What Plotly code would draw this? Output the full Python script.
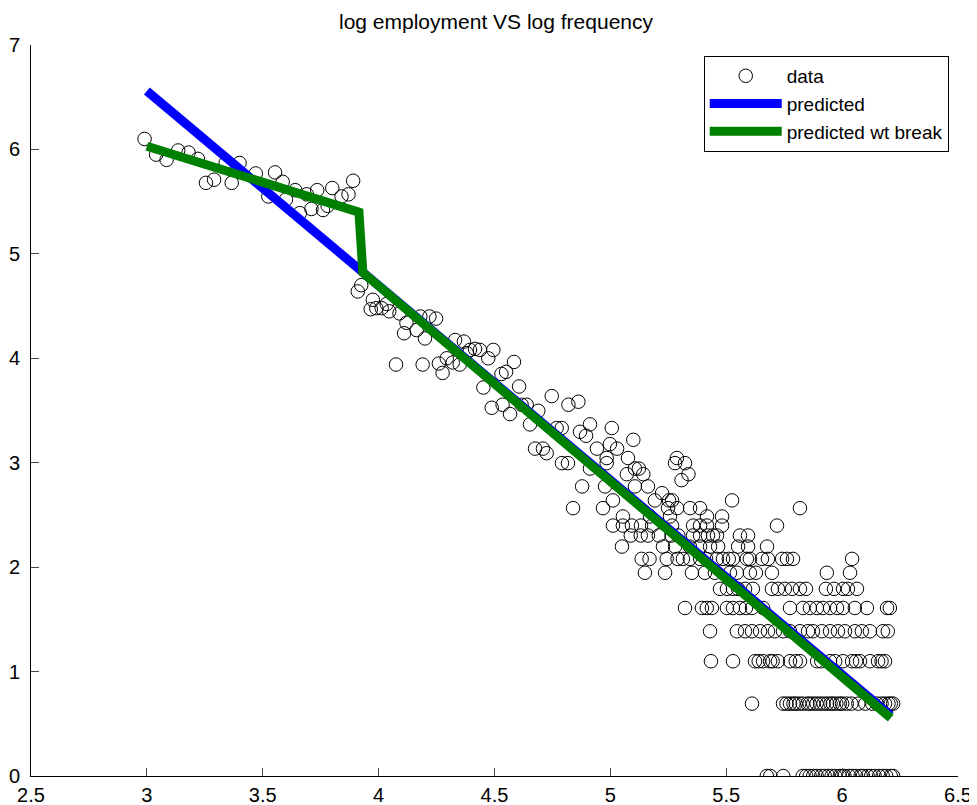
import plotly.graph_objects as go

# ---- scatter data: discrete employment levels (log n) and their log-frequency x values
row_levels = [0.0, 0.693, 1.099, 1.386, 1.609, 1.792, 1.946, 2.079, 2.197, 2.303, 2.398,
              2.485, 2.565, 2.639, 2.708, 2.773, 2.833, 2.890, 2.944, 2.996, 3.045, 3.091,
              3.135, 3.178, 3.219, 3.258, 3.296, 3.332, 3.367, 3.466, 3.497, 3.526, 3.555,
              3.584, 3.638]
row_x = [
    [5.675, 5.690, 5.746, 5.830, 5.845, 5.860, 5.875, 5.890, 5.910, 5.925, 5.940, 5.955, 5.970,
     5.990, 6.000, 6.010, 6.030, 6.045, 6.060, 6.080, 6.090, 6.110, 6.125, 6.140, 6.160, 6.175,
     6.190, 6.210, 6.220],
    [5.611, 5.745, 5.760, 5.775, 5.790, 5.800, 5.815, 5.830, 5.850, 5.860, 5.875, 5.890, 5.905,
     5.920, 5.935, 5.950, 5.960, 5.975, 5.990, 6.000, 6.020, 6.040, 6.070, 6.100, 6.130, 6.150,
     6.170, 6.185, 6.200, 6.210, 6.220],
    [5.434, 5.529, 5.624, 5.640, 5.659, 5.689, 5.700, 5.723, 5.775, 5.800, 5.818, 5.892, 5.910,
     5.948, 5.970, 6.004, 6.043, 6.060, 6.077, 6.120, 6.155, 6.170, 6.185],
    [5.430, 5.546, 5.581, 5.611, 5.646, 5.680, 5.710, 5.745, 5.775, 5.818, 5.853, 5.874, 5.913,
     5.948, 5.982, 6.012, 6.055, 6.085, 6.120, 6.176, 6.197],
    [5.322, 5.395, 5.416, 5.438, 5.503, 5.529, 5.559, 5.585, 5.611, 5.659, 5.775, 5.831, 5.861,
     5.891, 5.917, 5.948, 5.978, 6.004, 6.055, 6.107, 6.194, 6.206],
    [5.473, 5.503, 5.529, 5.551, 5.581, 5.615, 5.697, 5.723, 5.753, 5.784, 5.818, 5.844, 5.930,
     5.965, 6.004, 6.025, 6.064],
    [5.149, 5.236, 5.352, 5.408, 5.451, 5.516, 5.546, 5.602, 5.628, 5.697, 5.934, 6.034],
    [5.135, 5.169, 5.243, 5.290, 5.313, 5.343, 5.387, 5.413, 5.460, 5.486, 5.511, 5.529, 5.589,
     5.602, 5.654, 5.680, 5.741, 5.762, 5.788, 6.043],
    [5.050, 5.227, 5.279, 5.343, 5.387, 5.430, 5.465, 5.551, 5.594, 5.676],
    [5.088, 5.131, 5.162, 5.209, 5.264, 5.293, 5.357, 5.387, 5.421, 5.443, 5.460, 5.559, 5.594],
    [5.011, 5.054, 5.093, 5.132, 5.180, 5.266, 5.357, 5.387, 5.417, 5.482, 5.719],
    [5.054, 5.171, 5.257, 5.417, 5.482],
    [4.839, 4.968, 5.249, 5.288, 5.344, 5.387, 5.818],
    [5.011, 5.192, 5.253, 5.266, 5.525],
    [5.223],
    [4.878, 4.977, 5.106, 5.162],
    [5.307],
    [5.071, 5.142, 5.337],
    [4.912, 5.106, 5.123],
    [4.791, 4.817, 4.984, 5.279, 5.322],
    [4.984, 5.076, 5.287],
    [4.725],
    [4.675, 4.709, 4.942, 5.029],
    [4.998],
    [5.099],
    [4.895],
    [4.869],
    [4.768, 4.790, 5.006],
    [4.653, 4.912],
    [4.567],
    [4.689],
    [4.488],
    [4.535, 4.617, 4.639, 4.819],
    [4.862],
    [4.747],
]

# ---- scatter data: upper part (continuous values)
upper_x = [2.990, 3.040, 3.085, 3.135, 3.180, 3.220, 3.255, 3.290, 3.340, 3.400, 3.366, 3.470,
           3.553, 3.524, 3.586, 3.640, 3.600, 3.660, 3.690, 3.710, 3.735, 3.760, 3.800, 3.840,
           3.870, 3.890, 3.780,
           3.910, 3.925, 3.975, 3.966, 3.990, 4.013, 4.035, 4.046, 4.090, 4.110, 4.164, 4.200,
           4.180, 4.219, 4.248, 4.075, 4.190, 4.260, 4.276, 4.294, 4.320, 4.330, 4.368, 4.394,
           4.416, 4.437, 4.495, 4.473, 4.380, 4.350, 4.452, 4.530, 4.550, 4.584, 4.606, 4.120]
upper_y = [6.10, 5.95, 5.90, 5.99, 5.97, 5.91, 5.68, 5.71, 5.87, 5.87, 5.68, 5.77,
           5.78, 5.55, 5.69, 5.61, 5.52, 5.39, 5.57, 5.43, 5.61, 5.42, 5.63, 5.55,
           5.57, 5.70, 5.46,
           4.64, 4.70, 4.56, 4.47, 4.48, 4.48, 4.52, 4.45, 4.43, 4.24, 4.27, 4.19,
           4.40, 4.40, 4.38, 3.94, 3.94, 3.95, 3.86, 4.00, 3.96, 4.175, 4.16, 4.08,
           4.09, 4.08, 4.08, 4.00, 4.05, 3.94, 3.72, 3.85, 3.87, 3.965, 3.73, 4.34]

# ---- fitted lines
pred_x = [3.0, 6.21]
pred_y = [6.56, 0.58]
brk_x = [3.0, 3.915, 3.932, 6.21]
brk_y = [6.03, 5.40, 4.82, 0.555]

x_ticks = [2.5, 3, 3.5, 4, 4.5, 5, 5.5, 6, 6.5]
x_ticklabels = ["2.5", "3", "3.5", "4", "4.5", "5", "5.5", "6", "6.5"]
y_ticks = [0, 1, 2, 3, 4, 5, 6, 7]
y_ticklabels = ["0", "1", "2", "3", "4", "5", "6", "7"]

data_x = list(upper_x)
data_y = list(upper_y)
for lvl, xs in zip(row_levels, row_x):
    data_x.extend(xs)
    data_y.extend([lvl] * len(xs))

fig = go.Figure()
fig.add_trace(go.Scatter(
    x=data_x, y=data_y, mode="markers", name="data",
    marker=dict(symbol="circle-open", size=13.5, color="black", line=dict(width=1, color="black")),
))
fig.add_trace(go.Scatter(x=pred_x, y=pred_y, mode="lines", name="predicted",
                         line=dict(color="#0000ff", width=9)))
fig.add_trace(go.Scatter(x=brk_x, y=brk_y, mode="lines", name="predicted wt break",
                         line=dict(color="#008000", width=9)))

# the page body adds an 8px offset; margins compensate so the plot area matches the target
W, H = 977, 805
OFF = 8
font_main = "Liberation Sans, Arial, Helvetica, sans-serif"
fig.update_layout(
    width=W, height=H,
    margin=dict(l=31 - OFF, r=W - (958 - OFF), t=45 - OFF, b=H - (776 - OFF), autoexpand=False),
    paper_bgcolor="white", plot_bgcolor="white",
    font=dict(family=font_main, size=20, color="black"),
    title=dict(text="log employment VS log frequency",
               font=dict(family="Liberation Sans Narrow, Liberation Sans, Arial", size=21, color="black"),
               x=(496 - OFF) / W, xanchor="center", xref="container",
               y=(H - (22 - OFF)) / H, yanchor="middle", yref="container"),
    showlegend=True,
    legend=dict(x=0.990, xanchor="right", y=0.985, yanchor="top",
                bordercolor="black", borderwidth=1, bgcolor="white",
                font=dict(size=19, family=font_main), tracegroupgap=0,
                itemwidth=72),
)
fig.update_xaxes(range=[2.5, 6.5], tickvals=x_ticks, ticktext=x_ticklabels, automargin=False,
                 ticks="inside", ticklen=8, tickcolor="#444", showline=True, linecolor="black",
                 linewidth=1, showgrid=False, zeroline=False, mirror=False, ticklabelstandoff=1)
fig.update_yaxes(range=[0, 7], tickvals=y_ticks, ticktext=y_ticklabels, automargin=False,
                 ticks="inside", ticklen=8, tickcolor="#444", showline=True, linecolor="black",
                 linewidth=1, showgrid=False, zeroline=False, mirror=False, ticklabelstandoff=6)

fig.write_html("out.html")
